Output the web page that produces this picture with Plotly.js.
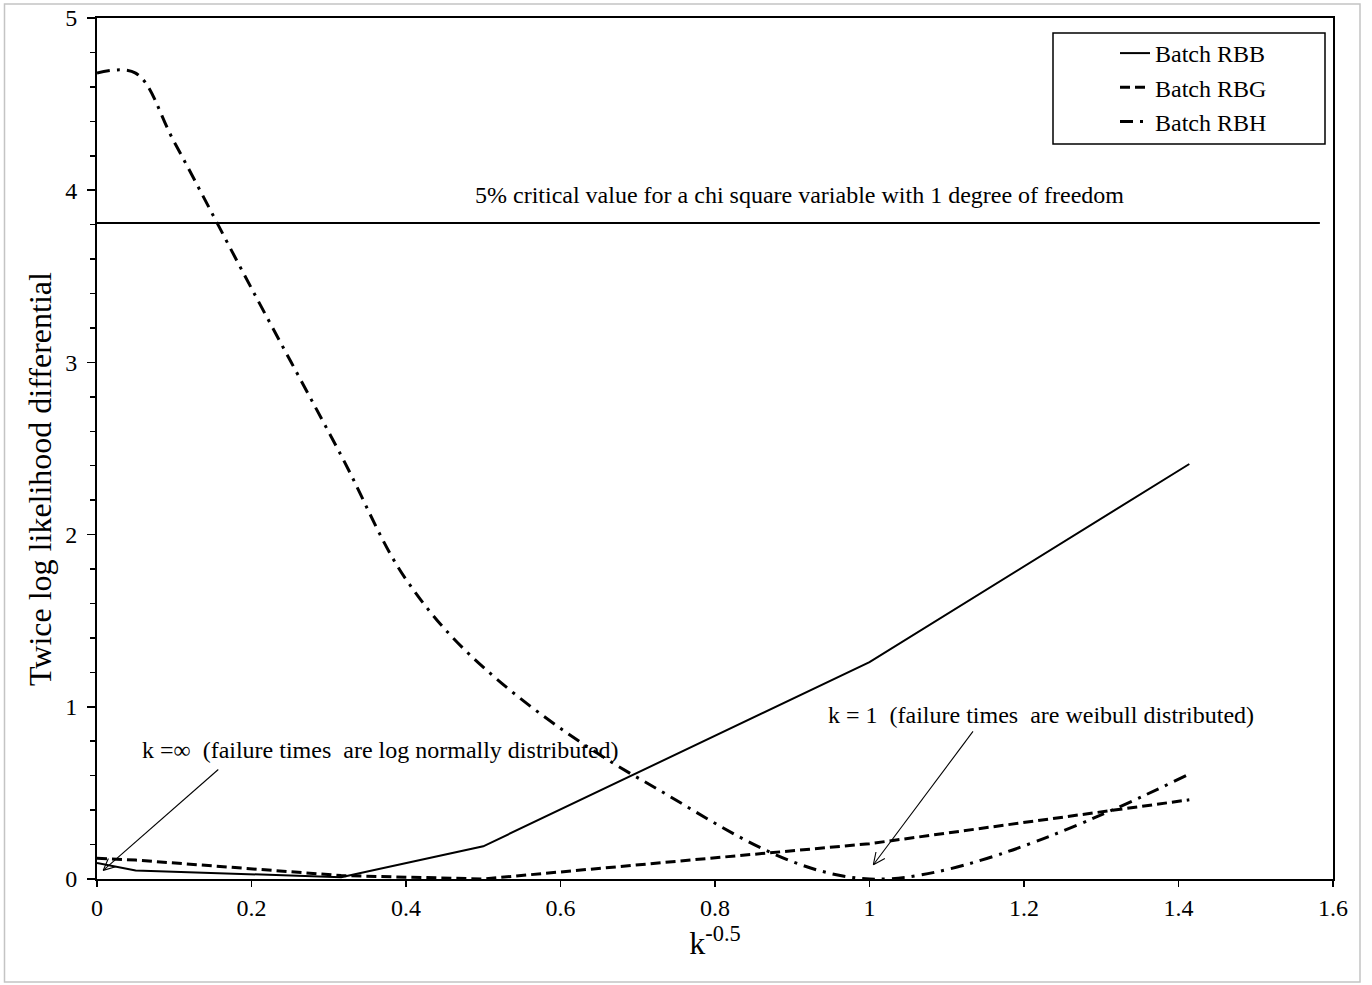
<!DOCTYPE html>
<html>
<head>
<meta charset="utf-8">
<script src="https://cdn.plot.ly/plotly-3.0.1.min.js"></script>
<style>
  html, body { margin: 0; padding: 0; background: #ffffff; }
  #chart { width: 1372px; height: 985px; }
</style>
</head>
<body>
<div id="chart"></div>
<script>
// Shape parameter axis: k^-0.5 for k = inf, 400, 10, 4, 1, 0.5
var kInvSqrt = [0, 0.05, 0.316, 0.5, 1.0, 1.414];

// Twice log likelihood differential for each batch
var batchRBB = [0.093, 0.05, 0.01, 0.19, 1.26, 2.41];
var batchRBG = [0.12, 0.11, 0.02, 0.0, 0.205, 0.46];

// Batch RBH was evaluated on a finer grid of k^-0.5
var kInvSqrtRBH = [0, 0.05, 0.1, 0.2, 0.316, 0.4, 0.5, 0.707, 1.0, 1.414];
var batchRBH   = [4.68, 4.68, 4.28, 3.43, 2.46, 1.74, 1.23, 0.57, 0.0, 0.61];

// 5% critical value for chi-square with 1 df, as drawn
var criticalX = [-0.013, 1.583];
var criticalValue = 3.81;

var seriesNames = ['Batch RBB', 'Batch RBG', 'Batch RBH'];
var xTickVals = [0, 0.2, 0.4, 0.6, 0.8, 1.0, 1.2, 1.4, 1.6];
var xTickText = ['0', '0.2', '0.4', '0.6', '0.8', '1', '1.2', '1.4', '1.6'];
var yTickVals = [0, 1, 2, 3, 4, 5];

var serif = '"Liberation Serif", "Times New Roman", Times, serif';
var ink = '#000000';

var traces = [
  {
    x: kInvSqrt, y: batchRBB, name: seriesNames[0],
    type: 'scatter', mode: 'lines',
    line: { color: ink, width: 2 }
  },
  {
    x: kInvSqrt, y: batchRBG, name: seriesNames[1],
    type: 'scatter', mode: 'lines',
    line: { color: ink, width: 3, dash: '10px,5px' }
  },
  {
    x: kInvSqrtRBH, y: batchRBH, name: seriesNames[2],
    type: 'scatter', mode: 'lines',
    line: { color: ink, width: 3, dash: '13px,7px,3px,7px', shape: 'spline', smoothing: 1 }
  }
];

var margin = { l: 97, r: 39, t: 18, b: 106 };
var plotW = 1372 - margin.l - margin.r;
var plotH = 985 - margin.t - margin.b;
function px2paperX(px) { return (px - margin.l) / plotW; }
function px2paperY(py) { return 1 - (py - margin.t) / plotH; }

// Arrow: a shaft from tail to head (data units) and two short arms (pixels) forming an open head
function arrowShapes(head, tail, arms) {
  var list = [{
    type: 'line', xref: 'x', yref: 'y', layer: 'above',
    x0: tail[0], y0: tail[1], x1: head[0], y1: head[1],
    line: { color: ink, width: 1.1 }
  }];
  arms.forEach(function (a) {
    list.push({
      type: 'line', xref: 'x', yref: 'y', layer: 'above',
      xsizemode: 'pixel', ysizemode: 'pixel',
      xanchor: head[0], yanchor: head[1],
      x0: 0, y0: 0, x1: a[0], y1: a[1],
      line: { color: ink, width: 1.1 }
    });
  });
  return list;
}

var shapes = [
  // critical value reference line
  {
    type: 'line', xref: 'x', yref: 'y', layer: 'above',
    x0: criticalX[0], x1: criticalX[1], y0: criticalValue, y1: criticalValue,
    line: { color: ink, width: 2 }
  },
  // legend frame
  {
    type: 'rect', xref: 'paper', yref: 'paper', layer: 'above',
    x0: px2paperX(1053), x1: px2paperX(1325), y0: px2paperY(144), y1: px2paperY(33),
    line: { color: ink, width: 1.5 }, fillcolor: 'rgba(0,0,0,0)'
  },
  // outer chart border
  {
    type: 'rect', xref: 'paper', yref: 'paper', layer: 'below',
    x0: px2paperX(4.5), x1: px2paperX(1360), y0: px2paperY(982), y1: px2paperY(4),
    line: { color: '#c4c4c4', width: 1.5 }, fillcolor: 'rgba(0,0,0,0)'
  }
].concat(
  arrowShapes([0.008, 0.05], [0.157, 0.636], [[12.5, 3.6], [5.2, 11.9]]),
  arrowShapes([1.005, 0.083], [1.134, 0.857], [[11.5, 6.2], [2.6, 12.7]])
);

var noteFont = { family: serif, size: 24, color: ink };

var annotations = [
  {
    x: 0.487, y: 3.97, xref: 'x', yref: 'y', xanchor: 'left', yanchor: 'middle',
    text: '5% critical value for a chi square variable with 1 degree of freedom',
    showarrow: false, font: noteFont
  },
  {
    x: 0.056, y: 0.75, xref: 'x', yref: 'y', xanchor: 'left', yanchor: 'middle',
    text: 'k =\u221E\u00A0\u00A0(failure times\u00A0\u00A0are log normally distributed)',
    showarrow: false, font: noteFont
  },
  {
    x: 0.944, y: 0.95, xref: 'x', yref: 'y', xanchor: 'left', yanchor: 'middle',
    text: 'k = 1\u00A0\u00A0(failure times\u00A0\u00A0are weibull distributed)',
    showarrow: false, font: noteFont
  },
  // vertical axis title
  {
    x: px2paperX(40), y: px2paperY(479), xref: 'paper', yref: 'paper',
    xanchor: 'center', yanchor: 'middle', textangle: -90,
    text: 'Twice log likelihood differential',
    showarrow: false, font: { family: serif, size: 32, color: ink }
  }
];

var layout = {
  width: 1372, height: 985,
  margin: margin,
  paper_bgcolor: '#ffffff', plot_bgcolor: '#ffffff',
  font: { family: serif, size: 24, color: ink },
  showlegend: true,
  legend: {
    x: px2paperX(1115), y: px2paperY(31), xanchor: 'left', yanchor: 'top',
    bgcolor: 'rgba(255,255,255,0)', borderwidth: 0,
    font: { family: serif, size: 24, color: ink },
    tracegroupgap: 0
  },
  xaxis: {
    range: [0, 1.6], tickmode: 'array', tickvals: xTickVals, ticktext: xTickText,
    ticks: 'outside', ticklen: 6, tickwidth: 1.5, tickcolor: ink,
    showline: true, linecolor: ink, linewidth: 2, mirror: true,
    showgrid: false, zeroline: false,
    tickfont: { family: serif, size: 24, color: ink },
    title: { text: 'k<sup>-0.5</sup>', font: { family: serif, size: 32, color: ink }, standoff: 10 }
  },
  yaxis: {
    range: [0, 5], tickmode: 'array', tickvals: yTickVals,
    ticks: 'outside', ticklen: 8, tickwidth: 1.5, tickcolor: ink,
    minor: { dtick: 0.2, ticks: 'outside', ticklen: 5, tickwidth: 1.5, tickcolor: ink, showgrid: false },
    showline: true, linecolor: ink, linewidth: 2, mirror: true,
    showgrid: false, zeroline: false,
    ticklabelstandoff: 5,
    tickfont: { family: serif, size: 24, color: ink }
  },
  annotations: annotations,
  shapes: shapes
};

Plotly.newPlot('chart', traces, layout, { displayModeBar: false, staticPlot: true });
</script>
</body>
</html>
